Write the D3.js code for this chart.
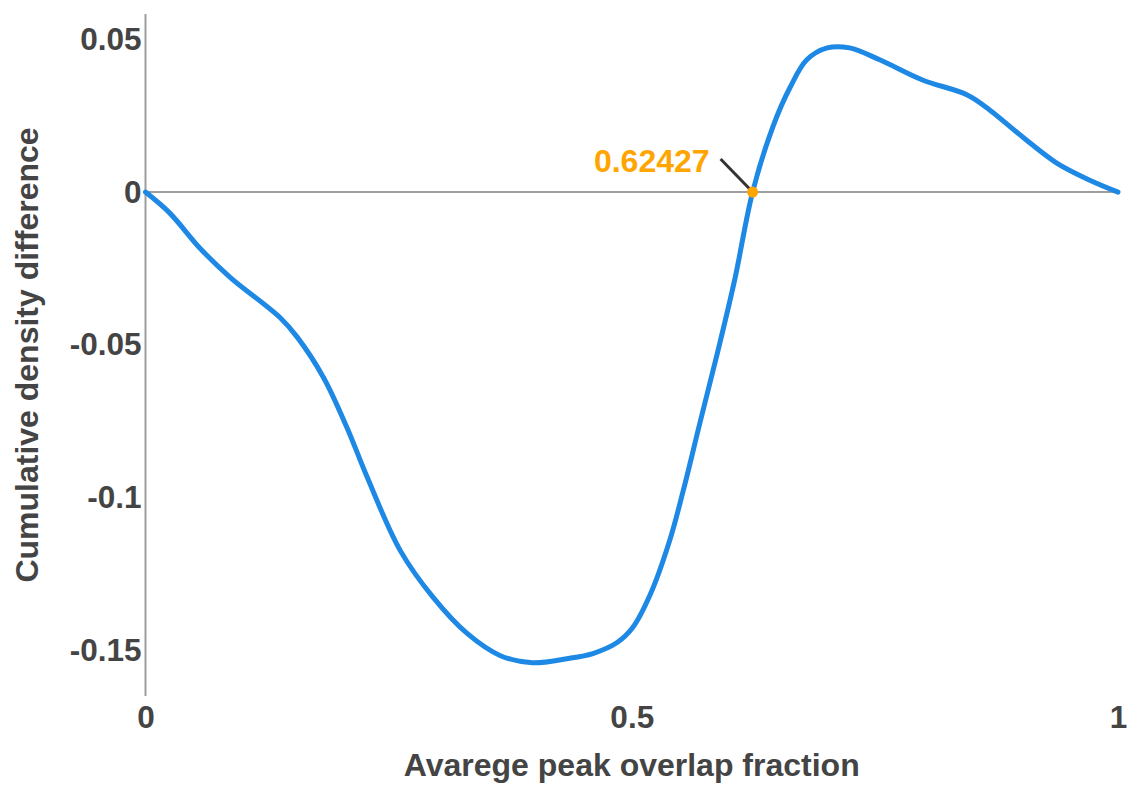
<!DOCTYPE html>
<html>
<head>
<meta charset="utf-8">
<script src="https://cdn.jsdelivr.net/npm/d3@7"></script>
<style>
  html, body { margin: 0; padding: 0; background: #fff; }
  svg { display: block; }
  text { font-family: "Liberation Sans", Arial, Helvetica, sans-serif; font-weight: bold; }
</style>
</head>
<body>
<svg id="chart" width="1127" height="785"></svg>
<script>
// Average peak overlap fraction (x) vs. cumulative density difference (y)
const overlap = [0, 0.025, 0.056, 0.087, 0.138, 0.156, 0.183, 0.207, 0.228, 0.262, 0.296, 0.331, 0.365, 0.398, 0.433, 0.46, 0.485, 0.501, 0.519, 0.539, 0.553, 0.57, 0.588, 0.606, 0.62427, 0.645, 0.663, 0.68, 0.701, 0.724, 0.755, 0.799, 0.845, 0.868, 0.902, 0.937, 0.971, 1.0];
const densityDiff = [0, -0.0069, -0.0184, -0.0279, -0.041, -0.0475, -0.0607, -0.077, -0.0934, -0.1174, -0.1328, -0.1446, -0.1518, -0.1541, -0.1528, -0.1511, -0.1475, -0.1426, -0.1318, -0.1141, -0.0977, -0.0757, -0.0528, -0.0285, 0, 0.0213, 0.0344, 0.0433, 0.0472, 0.0472, 0.0433, 0.0367, 0.0318, 0.0269, 0.018, 0.0095, 0.0039, 0];
const xTicks = [0, 0.5, 1];
const xTickLabels = ["0", "0.5", "1"];
const yTicks = [0.05, 0, -0.05, -0.1, -0.15];
const yTickLabels = ["0.05", "0", "-0.05", "-0.1", "-0.15"];
const crossing = 0.62427;
const crossingLabel = "0.62427";

const svg = d3.select("#chart");
const x = d3.scaleLinear().domain([0, 1]).range([145.5, 1118]);
const y = d3.scaleLinear().domain([-0.165, 0.0583]).range([696, 14]);

const textColor = "#444";
const fontSize = "31.5px";

// vertical axis line
svg.append("line")
  .attr("x1", x(0)).attr("x2", x(0))
  .attr("y1", y(0.0583)).attr("y2", y(-0.165))
  .attr("stroke", "#9e9e9e").attr("stroke-width", 2);

// zero baseline
svg.append("line")
  .attr("x1", x(0)).attr("x2", x(1))
  .attr("y1", y(0)).attr("y2", y(0))
  .attr("stroke", "#9e9e9e").attr("stroke-width", 2);

// y tick labels
const yAxis = d3.axisLeft(y).tickValues(yTicks).tickSize(0).tickPadding(4)
  .tickFormat((d, i) => yTickLabels[i]);
const gy = svg.append("g").attr("transform", `translate(${x(0)},0)`).call(yAxis);
gy.select(".domain").remove();
gy.selectAll("text").attr("fill", textColor).style("font-size", fontSize)
  .style("font-family", "'Liberation Sans', Arial, sans-serif").style("font-weight", "bold");

// x tick labels
const xAxis = d3.axisBottom(x).tickValues(xTicks).tickSize(0).tickPadding(0)
  .tickFormat((d, i) => xTickLabels[i]);
const gx = svg.append("g").attr("transform", `translate(0,${y(-0.165)})`).call(xAxis);
gx.select(".domain").remove();
gx.selectAll("text").attr("fill", textColor).attr("dy", null).attr("y", 32)
  .style("font-size", fontSize)
  .style("font-family", "'Liberation Sans', Arial, sans-serif").style("font-weight", "bold");

// axis titles
svg.append("text")
  .attr("x", x(0.5)).attr("y", 776)
  .attr("text-anchor", "middle").attr("fill", textColor)
  .style("font-size", "32px")
  .text("Avarege peak overlap fraction");

svg.append("text")
  .attr("transform", `translate(38,355) rotate(-90)`)
  .attr("text-anchor", "middle").attr("fill", textColor)
  .style("font-size", "32px")
  .text("Cumulative density difference");

// curve
const data = overlap.map((v, i) => [v, densityDiff[i]]);
svg.append("path")
  .datum(data)
  .attr("fill", "none")
  .attr("stroke", "#1e88e5")
  .attr("stroke-width", 5)
  .attr("stroke-linejoin", "round")
  .attr("stroke-linecap", "round")
  .attr("d", d3.line().x(d => x(d[0])).y(d => y(d[1])).curve(d3.curveCatmullRom.alpha(0.5)));

// zero-crossing annotation
const cx = x(crossing), cy = y(0);
svg.append("line")
  .attr("x1", cx - 32).attr("y1", cy - 33)
  .attr("x2", cx).attr("y2", cy)
  .attr("stroke", "#333").attr("stroke-width", 3);
svg.append("circle")
  .attr("cx", cx).attr("cy", cy).attr("r", 5.5)
  .attr("fill", "#ffa500");
svg.append("text")
  .attr("x", cx - 43).attr("y", cy - 20)
  .attr("text-anchor", "end").attr("fill", "#ffa500")
  .style("font-size", "32px")
  .text(crossingLabel);
</script>
</body>
</html>
